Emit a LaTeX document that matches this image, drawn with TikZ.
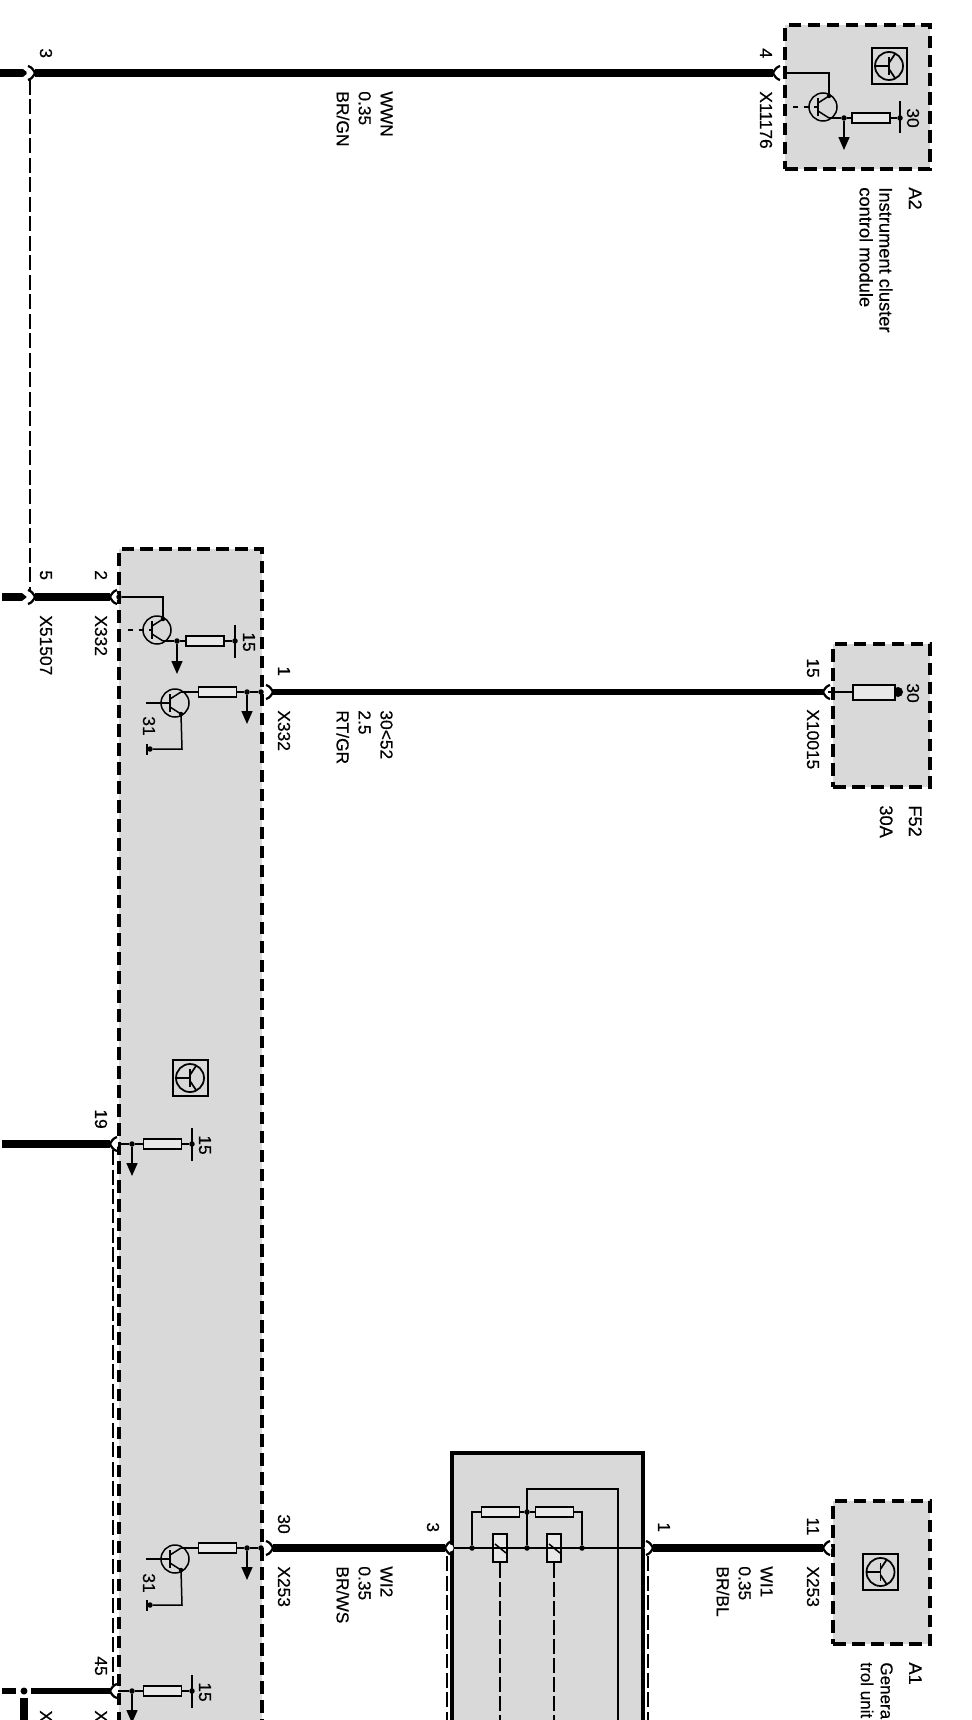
\documentclass[tikz,border=0pt]{standalone}
\usepackage{fontspec}
\setmainfont{Liberation Sans}
\newfontfamily\schemfont[FakeBold=0.35]{Liberation Sans}
\usetikzlibrary{arrows.meta, calc}
\definecolor{modulegray}{RGB}{217,217,217}
\definecolor{partgray}{RGB}{232,232,232}

\tikzset{
    pin/.pic={
        \fill[white] (5,0) circle[radius=3.6];
        \draw[line width=0.045cm] (7,-7) .. controls (3,-6) and (1,-2) .. (0,0) .. controls (1,2) and (3,6) .. (7,7);
    },
    transistor/.pic={
        \draw[thin wire] (0,0) circle[radius=14];
        \draw[line width=0.05cm] (-5,-9) -- (-5,9);
        \draw[thin wire] (-5,-4) -- (6,-11);
        \draw[thin wire] (-5,4) -- (6,11);
        \coordinate (-b) at (-5,0);
        \coordinate (-c) at (6,-11);
        \coordinate (-e) at (6,11);
    },
    ctrlsym/.pic={
        \draw[line width=0.04cm] (-17.5,-18) rectangle (17.5,18);
        \draw[line width=0.035cm] (0,0) circle[radius=14];
        \draw[line width=0.035cm] (-14,0) -- (0,0);
        \draw[line width=0.035cm] (0,-9) -- (0,9);
        \draw[line width=0.035cm] (0,-3) -- (6,-12);
        \draw[line width=0.035cm] (0,3) -- (6,12);
    }
}

\begin{document}
\begin{tikzpicture}[
    x=0.02cm, y=-0.02cm,
    module/.style={draw, line width=0.08cm, fill=modulegray, dash pattern=on 0.25cm off 0.13cm, inner sep=0},
    relaybox/.style={draw, line width=0.09cm, fill=modulegray, inner sep=0},
    wire/.style={line width=0.15cm},
    thin wire/.style={line width=0.03cm},
    loom/.style={line width=0.035cm, dash pattern=on 0.3cm off 0.09cm},
    stub/.style={wire, -{Triangle[length=0.1cm,width=0.15cm]}},
    gnd/.style={thin wire, -{Triangle[length=0.26cm,width=0.22cm]}},
    resistor/.style={draw, thin wire, fill=partgray, minimum width=0.76cm, minimum height=0.2cm, inner sep=0},
    contact/.style={draw, line width=0.04cm, fill=partgray, minimum width=0.28cm, minimum height=0.56cm, inner sep=0},
    jdot/.style={circle, fill=black, minimum size=0.11cm, inner sep=0},
    rail/.style={fill=black, minimum width=0.03cm, minimum height=0.66cm, inner sep=0},
    lbl/.style={rotate=-90, anchor=base west, inner sep=0, font=\schemfont\fontsize{9.9}{11}\selectfont},
    wirelabel/.style={rotate=-90, anchor=north west, inner sep=0, align=left, font=\schemfont\fontsize{9.9}{12.5}\selectfont},
    devlabel/.style={rotate=-90, anchor=north west, inner sep=0, align=left, font=\schemfont\fontsize{10.4}{11.3}\selectfont}
]
    \clip (0,0) rectangle (971,1720);
    \fill[white] (0,0) rectangle (971,1720);

    % Modules
    \node[module, minimum width=2.9cm, minimum height=2.88cm] (a2) at (857.5,97) {};
    \node[module, minimum width=2.86cm, minimum height=24.6cm] (ecu) at (190.5,1164) {};
    \node[module, minimum width=1.94cm, minimum height=2.86cm] (f52) at (881.5,715.5) {};
    \node[module, minimum width=1.94cm, minimum height=2.86cm] (a1) at (881.5,1572.5) {};
    \node[relaybox, minimum width=3.82cm, minimum height=6.4cm] (relay) at (547.5,1613) {};

    % Wire 3 to 4
    \coordinate (s3) at (0,73); \coordinate (s3t) at (28,73);
    \coordinate (x3) at (35,73); \coordinate (x4) at (773,73);
    \draw[stub] (s3) -- (s3t);
    \draw[wire] (x3) -- (x4);
    \coordinate (d3) at (30,80); \coordinate (d5) at (30,590);
    \draw[loom] (d3) -- (d5);
    \pic[rotate=180] (p3) at (x3) {pin};
    \pic (p4) at (x4) {pin};

    % Wire 5 to 2
    \coordinate (s5) at (2,597); \coordinate (s5t) at (27,597);
    \coordinate (x5) at (35,597); \coordinate (x2) at (110,597);
    \draw[stub] (s5) -- (s5t);
    \draw[wire] (x5) -- (x2);
    \pic[rotate=180] (p5) at (x5) {pin};
    \pic (p2) at (x2) {pin};

    % Wire 1 to 15
    \coordinate (x1) at (273,692); \coordinate (x15) at (823,692);
    \draw[line width=0.125cm] (x1) -- (x15);
    \pic[rotate=180] (p1) at (x1) {pin};
    \pic (p15) at (x15) {pin};

    % Wire 19, wire 45
    \coordinate (s19) at (2,1144); \coordinate (x19) at (110,1144);
    \draw[wire] (s19) -- (x19);
    \pic (p19) at (x19) {pin};
    \coordinate (d19) at (113,1150); \coordinate (d45) at (113,1685);
    \draw[loom] (d19) -- (d45);
    \coordinate (s45) at (2,1691); \coordinate (s45t) at (16,1691);
    \node[jdot, minimum size=0.14cm] (j45) at (24,1691) {};
    \coordinate (t45) at (31,1691); \coordinate (x45) at (110,1691);
    \coordinate (v45) at (24,1698); \coordinate (v45b) at (24,1725);
    \draw[line width=0.125cm] (s45) -- (s45t);
    \draw[line width=0.125cm] (t45) -- (x45);
    \draw[wire] (v45) -- (v45b);
    \pic (p45) at (x45) {pin};

    % Wires 30, 3, 1, 11
    \coordinate (x30) at (273,1548); \coordinate (xr3) at (445,1548);
    \coordinate (xr1) at (653,1548); \coordinate (x11) at (823,1548);
    \draw[wire] (x30) -- (xr3);
    \draw[wire] (xr1) -- (x11);
    \pic[rotate=180] (p30) at (x30) {pin};
    \pic (pr3) at (xr3) {pin};
    \pic[rotate=180] (pr1) at (xr1) {pin};
    \pic (p11) at (x11) {pin};
    \coordinate (dr3a) at (447,1556); \coordinate (dr3b) at (447,1730);
    \coordinate (dr1a) at (648,1556); \coordinate (dr1b) at (648,1730);
    \draw[loom] (dr3a) -- (dr3b);
    \draw[loom] (dr1a) -- (dr1b);

    % A2 internals
    \coordinate (a2in) at (785,73); \coordinate (a2up) at (829,73);
    \pic (qa) at (823,107) {transistor};
    \coordinate (qab) at (793,107);
    \node[resistor] (ra) at (871,118) {};
    \node[jdot] (ja) at (844,118) {};
    \node[rail] (ba) at (900,117) {};
    \node[jdot] (jab) at (900,118) {};
    \coordinate (ta) at (844,150);
    \draw[thin wire] (a2in) -- (a2up) -- (qa-c);
    \draw[thin wire, dashed] (qab) -- (qa-b);
    \draw[thin wire] (qa-e) -- (ja) -- (ra) -- (jab);
    \draw[gnd] (ja) -- (ta);
    \node[jdot, minimum size=0.09cm] (qam) at (qa-c) {};
    \pic (syma) at (889,66) {ctrlsym};

    % Upper ECU internals
    \node[jdot] (j2) at (119,597) {};
    \coordinate (c2) at (163,597);
    \pic (q1) at (157,630) {transistor};
    \coordinate (q1b) at (128,630);
    \node[resistor] (r1) at (205,641) {};
    \node[jdot] (j1) at (177,641) {};
    \node[rail] (b1) at (235,641) {};
    \node[jdot] (j1b) at (235,641) {};
    \coordinate (t1) at (177,674);
    \draw[thin wire] (j2) -- (c2) -- (q1-c);
    \draw[thin wire, dashed] (q1b) -- (q1-b);
    \draw[thin wire] (q1-e) -- (j1) -- (r1) -- (j1b);
    \draw[gnd] (j1) -- (t1);
    \node[jdot, minimum size=0.09cm] (q1m) at (q1-c) {};

    \pic (q2) at (175,703) {transistor};
    \coordinate (q2b) at (146,703);
    \node[resistor] (r2) at (217.5,692) {};
    \node[jdot] (j3) at (247,692) {};
    \node[jdot] (j4) at (261,692) {};
    \coordinate (c3) at (181,692); \coordinate (t3) at (247,724);
    \coordinate (e2) at (182,749);
    \node[jdot] (j31) at (150,749) {};
    \node[rail, minimum height=0.22cm] (b31) at (147,749) {};
    \draw[thin wire] (q2b) -- (q2-b);
    \draw[thin wire] (q2-c) -- (c3) -- (r2) -- (j3) -- (j4);
    \draw[gnd] (j3) -- (t3);
    \draw[thin wire] (q2-e) -- (e2) -- (j31);
    \node[jdot, minimum size=0.09cm] (q2m) at (q2-e) {};

    % Middle ECU internals
    \pic (symb) at (190,1078) {ctrlsym};
    \node[jdot] (j19) at (132,1144) {};
    \coordinate (i19) at (118,1144);
    \node[resistor] (r19) at (162.5,1144) {};
    \node[rail] (b19) at (192,1144) {};
    \node[jdot] (j19b) at (192,1144) {};
    \coordinate (t19) at (132,1176);
    \draw[thin wire] (i19) -- (j19) -- (r19) -- (j19b);
    \draw[gnd] (j19) -- (t19);

    % Lower ECU internals
    \pic (q3) at (175,1559) {transistor};
    \coordinate (q3b) at (146,1559);
    \node[resistor] (r3) at (217.5,1548) {};
    \node[jdot] (j5) at (247,1548) {};
    \node[jdot] (j6) at (261,1548) {};
    \coordinate (c4) at (181,1548); \coordinate (t5) at (247,1580);
    \coordinate (e3) at (182,1605);
    \node[jdot] (j32) at (150,1605) {};
    \node[rail, minimum height=0.22cm] (b32) at (147,1605) {};
    \draw[thin wire] (q3b) -- (q3-b);
    \draw[thin wire] (q3-c) -- (c4) -- (r3) -- (j5) -- (j6);
    \draw[gnd] (j5) -- (t5);
    \draw[thin wire] (q3-e) -- (e3) -- (j32);
    \node[jdot, minimum size=0.09cm] (q3m) at (q3-e) {};

    \coordinate (i45) at (118,1691);
    \node[jdot] (j45a) at (132,1691) {};
    \node[resistor] (r45) at (162.5,1691) {};
    \node[rail] (b45) at (192,1691) {};
    \node[jdot] (j45b) at (192,1691) {};
    \coordinate (t45a) at (132,1723);
    \draw[thin wire] (i45) -- (j45a) -- (r45) -- (j45b);
    \draw[gnd] (j45a) -- (t45a);

    % Relay internals
    \node[contact] (k1) at (500,1548) {};
    \node[contact] (k2) at (554,1548) {};
    \coordinate (ka) at (454,1548); \coordinate (kb) at (641,1548);
    \draw[line width=0.055cm] (ka) -- (kb);
    \coordinate (k1a) at (495,1544); \coordinate (k1c) at (506,1553);
    \coordinate (k2a) at (549,1544); \coordinate (k2c) at (560,1553);
    \draw[thin wire] (k1a) -- (k1c);
    \draw[thin wire] (k2a) -- (k2c);
    \node[resistor] (rk1) at (500.5,1512) {};
    \node[resistor] (rk2) at (554.5,1512) {};
    \node[jdot] (jk1) at (472,1548) {};
    \node[jdot] (jk2) at (527,1548) {};
    \node[jdot] (jk3) at (582,1548) {};
    \node[jdot] (jk4) at (527,1512) {};
    \coordinate (ck1) at (472,1512); \coordinate (ck3) at (582,1512);
    \coordinate (ck4) at (527,1489); \coordinate (ck5) at (618,1489);
    \coordinate (ck6) at (618,1730);
    \coordinate (k1d) at (500,1730); \coordinate (k2d) at (554,1730);
    \draw[thin wire] (jk1) -- (ck1) -- (rk1) -- (jk4) -- (rk2) -- (ck3) -- (jk3);
    \draw[thin wire] (jk2) -- (ck4) -- (ck5) -- (ck6);
    \draw[line width=0.035cm, dash pattern=on 0.3cm off 0.08cm] (k1) -- (k1d);
    \draw[line width=0.055cm, dash pattern=on 0.3cm off 0.08cm] (k2) -- (k2d);

    % Fuse
    \coordinate (f52in) at (828,692);
    \node[jdot, minimum size=0.2cm] (jf) at (898,692) {};
    \draw[thin wire] (f52in) -- (jf);
    \node[resistor, line width=0.04cm, minimum width=0.84cm, minimum height=0.3cm] (fuse) at (874,692) {};

    % A1
    \pic (symc) at (880.5,1572) {ctrlsym};

    % Pin labels
    \node[lbl] (l3) at (40,48) {3};
    \node[lbl] (l4) at (760,48) {4};
    \node[lbl] (lx11176) at (760,91) {X11176};
    \node[lbl] (l5) at (40,570) {5};
    \node[lbl] (l2) at (95,570) {2};
    \node[lbl] (lx51507) at (40,615) {X51507};
    \node[lbl] (lx332a) at (95,615) {X332};
    \node[lbl] (l1) at (278,666) {1};
    \node[lbl] (lx332b) at (278,710) {X332};
    \node[lbl] (l15) at (807,658) {15};
    \node[lbl] (lx10015) at (807,709) {X10015};
    \node[lbl] (l19) at (95,1109) {19};
    \node[lbl] (l45) at (95,1656) {45};
    \node[lbl] (lxa) at (40,1710) {X};
    \node[lbl] (lxb) at (95,1710) {X};
    \node[lbl] (l30) at (278,1514) {30};
    \node[lbl] (lx253a) at (278,1566) {X253};
    \node[lbl] (lr3) at (427,1522) {3};
    \node[lbl] (lr1) at (658,1522) {1};
    \node[lbl] (l11) at (807,1517) {11};
    \node[lbl] (lx253b) at (807,1566) {X253};

    % Terminal labels
    \node[lbl] (t30a) at (907,108) {30};
    \node[lbl] (t15a) at (243,632) {15};
    \node[lbl] (t31a) at (143,716) {31};
    \node[lbl] (t15b) at (199,1135) {15};
    \node[lbl] (t31b) at (143,1573) {31};
    \node[lbl] (t15c) at (199,1682) {15};
    \node[lbl] (t30b) at (907,683) {30};

    % Wire labels
    \node[wirelabel] (wwn) at (393,91) {WWN\\0.35\\BR/GN};
    \node[wirelabel] (rtgr) at (393,710) {30<52\\2.5\\RT/GR};
    \node[wirelabel] (wi2) at (393,1566) {WI2\\0.35\\BR/WS};
    \node[wirelabel] (wi1) at (773,1566) {WI1\\0.35\\BR/BL};

    % Component labels
    \node[devlabel] (a2name) at (922,187) {A2};
    \node[devlabel] (a2desc) at (893,187) {Instrument cluster\\control module};
    \node[devlabel] (f52name) at (922,805) {F52};
    \node[devlabel] (f52desc) at (893,805) {30A};
    \node[devlabel] (a1name) at (922,1662) {A1};
    \node[devlabel, font=\schemfont\fontsize{9.7}{11.3}\selectfont] (a1desc) at (893,1662) {Genera\\trol unit};
\end{tikzpicture}
\end{document}
